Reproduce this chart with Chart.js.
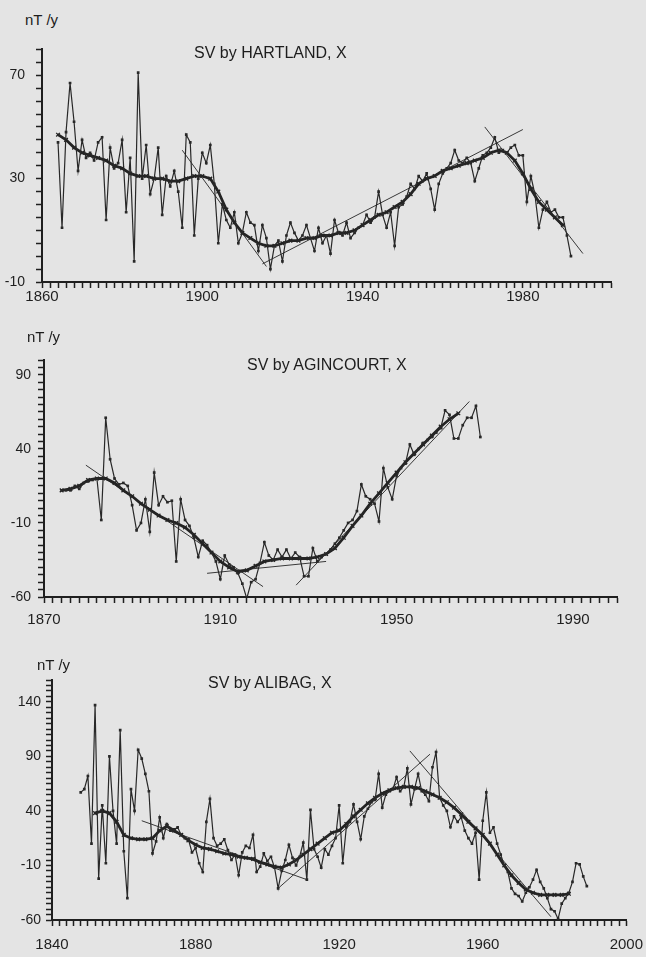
<!DOCTYPE html>
<html lang="ru">
<head>
<meta charset="UTF-8">
<title>SV by HARTLAND, AGINCOURT, ALIBAG - X</title>
<script src="https://cdn.jsdelivr.net/npm/chart.js@4.4.1/dist/chart.umd.min.js"></script>
<style>
    body { margin: 0; width: 646px; height: 957px; position: relative; overflow: hidden;
           background: #e4e4e4; color: #1d1d1d; font-family: "Liberation Sans", Arial, sans-serif; }
    canvas { position: absolute; left: 0; }
    .lbl { position: absolute; white-space: nowrap; line-height: 1; }
    .unit { font-size: 15px; }
    .ttl { font-size: 16px; }
</style>
</head>
<body>
    <canvas id="hartland" width="646" height="282" style="top:30px"></canvas>
    <canvas id="agincourt" width="646" height="289" style="top:340px"></canvas>
    <canvas id="alibag" width="653" height="292" style="top:662px"></canvas>

    <div class="lbl unit" style="left:25px; top:12px">nT /y</div>
    <div class="lbl ttl" style="left:194px; top:45px">SV by HARTLAND, X</div>

    <div class="lbl unit" style="left:27px; top:329px">nT /y</div>
    <div class="lbl ttl" style="left:247px; top:357px">SV by AGINCOURT, X</div>

    <div class="lbl unit" style="left:37px; top:657px">nT /y</div>
    <div class="lbl ttl" style="left:208px; top:675px">SV by ALIBAG, X</div>

<script>
// annual secular variation of X, nT/y
const hartlandStart = 1864;
const hartlandRaw = [
    44, 11, 48, 67, 52, 33, 45, 38, 40, 37, 44, 46, 14, 42, 34, 36, 45, 17, 38, -2,
    71, 30, 43, 24, 30, 42, 16, 31, 27, 33, 25, 11, 47, 44, 8, 30, 40, 36, 43, 28,
    5, 20, 14, 11, 17, 5, 9, 17, 13, 12, 2, 12, 7, -5, 4, 6, -2, 8, 13, 9,
    6, 8, 12, 7, 2, 11, 5, 8, 1, 14, 9, 8, 13, 7, 9, 11, 12, 16, 13, 15,
    25, 16, 11, 17, 4, 19, 20, 23, 28, 26, 31, 29, 32, 26, 18, 28, 32, 34, 36, 41,
    37, 36, 38, 36, 29, 34, 39, 40, 42, 46, 40, 41, 40, 42, 43, 39, 39, 21, 31, 24,
    11, 18, 21, 17, 18, 15, 15, 8, 0
];
// smoothed curve, every 2 years
const hartlandSmoothStart = 1864;
const hartlandSmooth = [
    47, 45, 42, 40, 39, 38, 37, 35, 34, 32, 31, 31, 30, 30, 29, 29, 30, 31, 31, 30,
    25, 18, 13, 9, 7, 5, 4, 4, 5, 6, 6, 7, 7, 8, 8, 9, 9, 10, 12, 14,
    16, 17, 19, 21, 24, 28, 30, 31, 33, 34, 35, 36, 37, 38, 40, 41, 40, 37, 32, 26,
    21, 18, 15, 12
];
// straight segments: [year1, value1, year2, value2]
const hartlandTrends = [[1895, 41, 1916, -4], [1915, -3, 1980, 49], [1970.5, 50, 1995, 1]];

const agincourtStart = 1874;
const agincourtRaw = [
    12, 12, 12, 15, 13, 17, 18, 19, 20, -8, 61, 33, 20, 16, 17, 15, 2, -15, -10, 6,
    -16, 24, 2, 8, 4, 5, -36, 6, -8, -12, -20, -33, -22, -25, -30, -36, -48, -32, -38, -40,
    -44, -51, -61, -50, -48, -37, -23, -32, -35, -28, -33, -28, -34, -30, -33, -46, -46, -27, -36, -33,
    -31, -28, -24, -20, -15, -10, -8, -2, 16, 8, 6, 3, -9, 27, 14, 6, 22, 27, 30, 43,
    36, 40, 44, 46, 48, 51, 54, 66, 63, 47, 47, 56, 61, 61, 69, 48
];
const agincourtSmoothStart = 1874;
const agincourtSmooth = [
    12, 13, 15, 19, 20, 20, 17, 12, 8, 3, -1, -5, -8, -10, -13, -18, -24, -30, -36, -40,
    -43, -42, -39, -36, -35, -34, -34, -34, -34, -33, -31, -27, -20, -12, -5, 3, 10, 17, 24, 31,
    37, 43, 49, 55, 60, 64
];
const agincourtTrends = [[1879.5, 29, 1919.7, -53], [1907, -44, 1934, -36], [1927.2, -52, 1966.5, 72]];

const alibagStart = 1848;
const alibagRaw = [
    57, 60, 72, 10, 137, -22, 45, -8, 90, 40, 10, 114, 3, -40, 60, 40, 96, 88, 74, 58,
    1, 12, 34, 15, 28, 22, 23, 25, 18, 15, 14, 2, 6, -8, -16, 30, 51, 15, 8, 10,
    14, 4, -5, 0, -19, 2, 8, 6, 18, -16, -11, 1, -6, -2, -12, -31, -15, -5, 9, -3,
    -10, -2, 11, -23, 41, 5, -2, -12, 5, 0, 8, 15, 45, -8, 25, 30, 46, 30, 14, 35,
    42, 48, 50, 74, 43, 55, 58, 60, 71, 58, 62, 79, 46, 60, 74, 58, 55, 49, 80, 94,
    52, 45, 40, 25, 35, 30, 34, 22, 15, 10, 20, -23, 31, 57, 20, 25, 10, 0, -10, -16,
    -31, -36, -38, -43, -35, -30, -23, -14, -25, -31, -40, -50, -52, -59, -45, -40, -35, -25, -8, -9,
    -20, -29
];
const alibagSmoothStart = 1852;
const alibagSmooth = [
    38, 40, 38, 30, 18, 15, 14, 14, 15, 22, 26, 22, 18, 13, 9, 6, 5, 3, 1, 0,
    -2, -3, -4, -7, -9, -11, -12, -9, -5, 0, 5, 10, 15, 20, 22, 28, 35, 41, 47, 52,
    56, 59, 61, 62, 62, 61, 58, 55, 52, 48, 43, 37, 30, 24, 18, 10, 0, -10, -19, -26,
    -32, -35, -37, -37, -37, -37, -36
];
const alibagTrends = [[1865, 31, 1911, -23], [1903, -31, 1945.3, 92], [1939.7, 95, 1979, -57]];

const ink = '#1f1f1f';
const tickFont = { family: '"Liberation Sans", Arial, sans-serif', size: 14 };

function stationChart(id, o) {
    const rawPoints = o.raw.map((v, i) => ({ x: o.rawStart + i, y: v }));
    const smoothPoints = o.smooth.map((v, i) => ({ x: o.smoothStart + 2 * i, y: v }));

    const datasets = [
        {   // yearly values
            data: rawPoints, borderColor: '#282828', borderWidth: 1.2,
            pointStyle: 'rect', pointRadius: 1.9, pointBackgroundColor: '#282828',
            pointBorderWidth: 0, tension: 0
        },
        {   // smoothed curve
            data: smoothPoints, borderColor: '#242424', borderWidth: 2.8,
            pointStyle: 'crossRot', pointRadius: 2.6, pointBorderColor: '#242424',
            pointBorderWidth: 1.3, tension: 0
        }
    ];
    o.trends.forEach(t => {
        datasets.push({
            data: [{ x: t[0], y: t[1] }, { x: t[2], y: t[3] }],
            borderColor: '#383838', borderWidth: 1, pointRadius: 0
        });
    });

    const axisGrid = { drawOnChartArea: false, drawTicks: true, tickLength: 6, tickWidth: 1.5, tickColor: ink, color: ink };

    return new Chart(document.getElementById(id), {
        type: 'line',
        data: { datasets },
        options: {
            responsive: false,
            animation: false,
            events: [],
            plugins: { legend: { display: false }, tooltip: { enabled: false } },
            layout: { padding: { top: o.padTop, right: o.padRight, left: 0, bottom: 0 } },
            scales: {
                x: {
                    type: 'linear', min: o.xMin, max: o.xMax,
                    border: { color: ink, width: 2 },
                    grid: axisGrid,
                    ticks: {
                        stepSize: 2, maxTicksLimit: 1000, autoSkip: false, maxRotation: 0, padding: o.xPad,
                        color: ink, font: { family: tickFont.family, size: 15 },
                        callback: v => (v - o.xMin) % o.xEvery === 0 ? String(v) : ''
                    },
                    afterFit: s => { s.height = o.xAxisH; }
                },
                y: {
                    min: o.yMin, max: o.yMax,
                    border: { color: ink, width: 2 },
                    grid: axisGrid,
                    ticks: {
                        stepSize: 5, maxTicksLimit: 1000, autoSkip: false, padding: o.yPad,
                        color: ink, font: tickFont,
                        callback: v => (v - o.yMin) % o.yEvery === 0 ? String(v) : ''
                    },
                    afterFit: s => { s.width = o.axisX; }
                }
            }
        }
    });
}

stationChart('hartland', {
    raw: hartlandRaw, rawStart: hartlandStart,
    smooth: hartlandSmooth, smoothStart: hartlandSmoothStart, trends: hartlandTrends,
    xMin: 1860, xMax: 2002, xEvery: 40, yMin: -10, yMax: 80, yEvery: 40,
    axisX: 42, padTop: 16, padRight: 35, xAxisH: 30, xPad: 0, yPad: 11
});

stationChart('agincourt', {
    raw: agincourtRaw, rawStart: agincourtStart,
    smooth: agincourtSmooth, smoothStart: agincourtSmoothStart, trends: agincourtTrends,
    xMin: 1870, xMax: 2000, xEvery: 40, yMin: -60, yMax: 100, yEvery: 50,
    axisX: 44, padTop: 20, padRight: 29, xAxisH: 32, xPad: 8, yPad: 7
});

stationChart('alibag', {
    raw: alibagRaw, rawStart: alibagStart,
    smooth: alibagSmooth, smoothStart: alibagSmoothStart, trends: alibagTrends,
    xMin: 1840, xMax: 2000, xEvery: 40, yMin: -60, yMax: 160, yEvery: 50,
    axisX: 52, padTop: 18, padRight: 4, xAxisH: 34, xPad: 10, yPad: 5
});
</script>
</body>
</html>
